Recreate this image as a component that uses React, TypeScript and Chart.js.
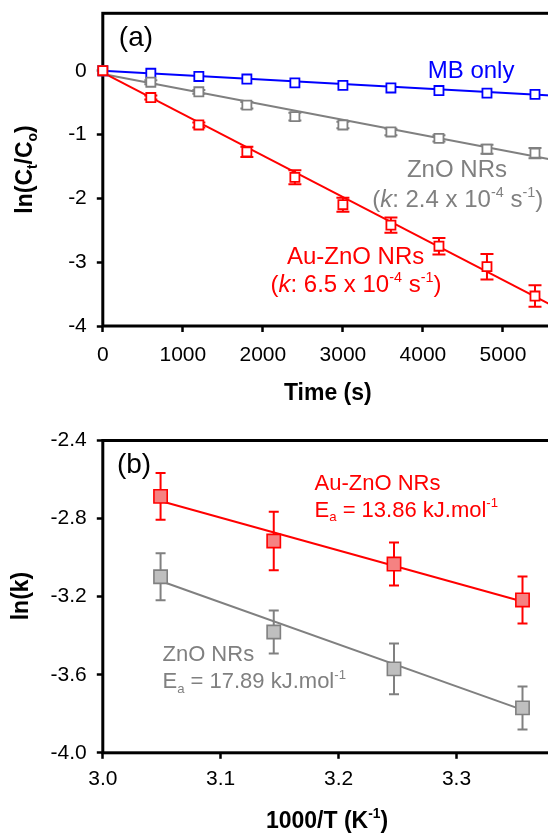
import React, { useEffect, useRef } from 'react';
import { Chart, registerables } from 'chart.js';

Chart.register(...registerables);

const FONT = '"Liberation Sans", Arial, Helvetica, sans-serif';
const RED = '#ff0000';
const BLUE = '#0000ff';
const GRAY = '#808080';

// ---------- Panel (a): ln(Ct/Co) vs time ----------
const timeS = [0, 600, 1200, 1800, 2400, 3000, 3600, 4200, 4800, 5400];
const mbOnly = [0, -0.04, -0.09, -0.13, -0.19, -0.23, -0.27, -0.31, -0.35, -0.37];
const znoA = [0, -0.18, -0.33, -0.54, -0.72, -0.85, -0.96, -1.06, -1.23, -1.29];
const znoAErr = [0, 0.03, 0.03, 0.05, 0.06, 0.05, 0.05, 0.05, 0.07, 0.08];
const auznoA = [0, -0.42, -0.85, -1.27, -1.67, -2.1, -2.42, -2.75, -3.07, -3.53];
const auznoAErr = [0, 0.03, 0.04, 0.08, 0.11, 0.11, 0.12, 0.13, 0.2, 0.17];
const fitTime = [0, 5600];
const mbFit = [0, -0.39];
const znoFit = [-0.05, -1.39];
const auznoFit = [-0.03, -3.67];
const timeTicks = [0, 1000, 2000, 3000, 4000, 5000];
const lnCTicks = [-4, -3, -2, -1, 0];

// ---------- Panel (b): ln(k) vs 1000/T ----------
const invT = [3.049, 3.145, 3.247, 3.356];
const auznoLnK = [-2.686, -2.915, -3.033, -3.217];
const auznoLnKErr = [0.12, 0.15, 0.11, 0.12];
const znoLnK = [-3.098, -3.381, -3.57, -3.77];
const znoLnKErr = [0.12, 0.11, 0.13, 0.11];
const fitInvT = [3.049, 3.356];
const auznoLnKFit = [-2.71, -3.225];
const znoLnKFit = [-3.12, -3.78];
const invTTicks = [3.0, 3.1, 3.2, 3.3];
const lnKTicks = [-4.0, -3.6, -3.2, -2.8, -2.4];

type Seg = { t: string; s?: 'sup' | 'sub'; i?: boolean };

function drawRich(
  ctx: CanvasRenderingContext2D,
  segs: Seg[],
  x: number,
  y: number,
  size: number,
  color: string,
  align: 'left' | 'center',
  bold = false
) {
  const fontFor = (sg: Seg) =>
    `${sg.i ? 'italic ' : ''}${bold ? 'bold ' : ''}${sg.s ? size * 0.6 : size}px ${FONT}`;
  let total = 0;
  const widths = segs.map((sg) => {
    ctx.font = fontFor(sg);
    const w = ctx.measureText(sg.t).width;
    total += w;
    return w;
  });
  let cx = align === 'center' ? x - total / 2 : x;
  ctx.fillStyle = color;
  ctx.textAlign = 'left';
  ctx.textBaseline = 'alphabetic';
  segs.forEach((sg, k) => {
    ctx.font = fontFor(sg);
    const dy = sg.s === 'sup' ? -size * 0.42 : sg.s === 'sub' ? size * 0.22 : 0;
    ctx.fillText(sg.t, cx, y + dy);
    cx += widths[k];
  });
}

const frameAndErrors = {
  id: 'frameAndErrors',
  beforeDatasetsDraw(chart: any) {
    const ctx = chart.ctx as CanvasRenderingContext2D;
    const { left, top, right, bottom } = chart.chartArea;
    ctx.save();
    ctx.strokeStyle = '#000';
    ctx.lineWidth = 3;
    ctx.strokeRect(left, top, right - left, bottom - top);
    const ys = chart.scales.y;
    chart.data.datasets.forEach((ds: any, i: number) => {
      const eb = ds.errorBars;
      if (!eb) return;
      const meta = chart.getDatasetMeta(i);
      ctx.strokeStyle = eb.color;
      ctx.lineWidth = eb.width;
      meta.data.forEach((pt: any, j: number) => {
        const e = eb.values[j];
        if (!e) return;
        const v = ds.data[j].y;
        const x = pt.x;
        const y1 = ys.getPixelForValue(v + e);
        const y2 = ys.getPixelForValue(v - e);
        ctx.beginPath();
        ctx.moveTo(x, y1);
        ctx.lineTo(x, y2);
        ctx.moveTo(x - eb.cap, y1);
        ctx.lineTo(x + eb.cap, y1);
        ctx.moveTo(x - eb.cap, y2);
        ctx.lineTo(x + eb.cap, y2);
        ctx.stroke();
      });
    });
    ctx.restore();
  },
};

function textPlugin(draw: (chart: any, ctx: CanvasRenderingContext2D) => void) {
  return {
    id: 'texts',
    afterDraw(chart: any) {
      const ctx = chart.ctx as CanvasRenderingContext2D;
      ctx.save();
      draw(chart, ctx);
      ctx.restore();
    },
  };
}

function axisCfg(
  min: number,
  max: number,
  ticks: number[],
  fmt: (v: number) => string,
  size: { w?: number; h?: number },
  pad: number
) {
  return {
    type: 'linear' as const,
    min,
    max,
    afterBuildTicks: (s: any) => {
      s.ticks = ticks.map((value) => ({ value }));
    },
    afterFit: (s: any) => {
      if (size.w !== undefined) s.width = size.w;
      if (size.h !== undefined) s.height = size.h;
      s.paddingTop = 0;
      s.paddingBottom = 0;
      s.paddingLeft = 0;
      s.paddingRight = 0;
    },
    grid: {
      drawOnChartArea: false,
      drawTicks: true,
      tickLength: 6,
      tickWidth: 2.5,
      tickColor: '#000',
    },
    border: { display: false },
    ticks: {
      color: '#000',
      font: { family: FONT, size: 21 },
      padding: pad,
      autoSkip: false,
      maxRotation: 0,
      minRotation: 0,
      callback: (v: any) => fmt(Number(v)),
    },
  };
}

function pts(xs: number[], ys: number[]) {
  return xs.map((x, i) => ({ x, y: ys[i] }));
}

function makeChartA(canvas: HTMLCanvasElement) {
  const sq = (color: string, order: number, data: any, err?: number[], errColor?: string) => ({
    data,
    showLine: false,
    pointStyle: 'rect',
    pointRadius: 6.4,
    pointBorderWidth: 1.8,
    pointBorderColor: color,
    pointBackgroundColor: '#ffffff',
    order,
    clip: false,
    errorBars: err ? { values: err, color: errColor, width: 2, cap: 6.5 } : undefined,
  });
  const fitLine = (color: string, order: number, ys: number[]) => ({
    data: pts(fitTime, ys),
    showLine: true,
    borderColor: color,
    borderWidth: 2,
    pointRadius: 0,
    order,
    clip: false,
  });
  return new Chart(canvas, {
    type: 'scatter',
    data: {
      datasets: [
        fitLine(BLUE, 5, mbFit),
        fitLine(GRAY, 4, znoFit),
        fitLine(RED, 3, auznoFit),
        sq(BLUE, 2, pts(timeS, mbOnly)),
        sq(GRAY, 1, pts(timeS, znoA), znoAErr, GRAY),
        sq(RED, 0, pts(timeS, auznoA), auznoAErr, RED),
      ] as any,
    },
    options: {
      responsive: false,
      animation: false,
      devicePixelRatio: 1,
      events: [],
      layout: { padding: { top: 13.3, right: 49, left: 0, bottom: 0 } },
      plugins: { legend: { display: false }, tooltip: { enabled: false } },
      scales: {
        x: axisCfg(0, 5600, timeTicks, (v) => String(v), { h: 92 }, 11),
        y: axisCfg(-4, 0.9, lnCTicks, (v) => String(v), { w: 102.8 }, 10),
      },
    } as any,
    plugins: [
      frameAndErrors,
      textPlugin((chart, ctx) => {
        const xs = chart.scales.x;
        const ys = chart.scales.y;
        const X = (v: number) => xs.getPixelForValue(v);
        const Y = (v: number) => ys.getPixelForValue(v);
        drawRich(ctx, [{ t: '(a)' }], X(200), Y(0.39), 28, '#000', 'left');
        drawRich(ctx, [{ t: 'MB only' }], X(4060), Y(-0.12), 24, BLUE, 'left');
        drawRich(ctx, [{ t: 'ZnO NRs' }], X(4425), Y(-1.66), 24, GRAY, 'center');
        drawRich(
          ctx,
          [{ t: '(' }, { t: 'k', i: true }, { t: ': 2.4 x 10' }, { t: '-4', s: 'sup' }, { t: ' s' }, { t: '-1', s: 'sup' }, { t: ')' }],
          X(4434), Y(-2.13), 24, GRAY, 'center'
        );
        drawRich(ctx, [{ t: 'Au-ZnO NRs' }], X(3158), Y(-3.03), 24, RED, 'center');
        drawRich(
          ctx,
          [{ t: '(' }, { t: 'k', i: true }, { t: ': 6.5 x 10' }, { t: '-4', s: 'sup' }, { t: ' s' }, { t: '-1', s: 'sup' }, { t: ')' }],
          X(3163), Y(-3.47), 24, RED, 'center'
        );
        // axis titles
        drawRich(ctx, [{ t: 'Time (s)' }], 327.8, 400, 23, '#000', 'center', true);
        ctx.save();
        ctx.translate(32, 169.5);
        ctx.rotate(-Math.PI / 2);
        drawRich(
          ctx,
          [{ t: 'ln(C' }, { t: 't', s: 'sub' }, { t: '/C' }, { t: 'o', s: 'sub' }, { t: ')' }],
          0, 0, 23, '#000', 'center', true
        );
        ctx.restore();
      }),
    ],
  });
}

function makeChartB(canvas: HTMLCanvasElement) {
  const sq = (border: string, fill: string, order: number, data: any, err: number[]) => ({
    data,
    showLine: false,
    pointStyle: 'rect',
    pointRadius: 9.4,
    pointBorderWidth: 1.6,
    pointBorderColor: border,
    pointBackgroundColor: fill,
    order,
    clip: false,
    errorBars: { values: err, color: border, width: 2, cap: 5 },
  });
  const fitLine = (color: string, order: number, ys: number[]) => ({
    data: pts(fitInvT, ys),
    showLine: true,
    borderColor: color,
    borderWidth: 2,
    pointRadius: 0,
    order,
    clip: false,
  });
  return new Chart(canvas, {
    type: 'scatter',
    data: {
      datasets: [
        fitLine(GRAY, 3, znoLnKFit),
        fitLine(RED, 2, auznoLnKFit),
        sq(GRAY, '#bfbfbf', 1, pts(invT, znoLnK), znoLnKErr),
        sq(RED, '#f58282', 0, pts(invT, auznoLnK), auznoLnKErr),
      ] as any,
    },
    options: {
      responsive: false,
      animation: false,
      devicePixelRatio: 1,
      events: [],
      layout: { padding: { top: 22.5, right: 49.2, left: 0, bottom: 0 } },
      plugins: { legend: { display: false }, tooltip: { enabled: false } },
      scales: {
        x: axisCfg(3.0, 3.38, invTTicks, (v) => v.toFixed(1), { h: 83.2 }, 8),
        y: axisCfg(-4.0, -2.4, lnKTicks, (v) => v.toFixed(1), { w: 102.8 }, 10),
      },
    } as any,
    plugins: [
      frameAndErrors,
      textPlugin((chart, ctx) => {
        const xs = chart.scales.x;
        const ys = chart.scales.y;
        const X = (v: number) => xs.getPixelForValue(v);
        const Y = (v: number) => ys.getPixelForValue(v);
        drawRich(ctx, [{ t: '(b)' }], X(3.012), Y(-2.569), 28, '#000', 'left');
        drawRich(ctx, [{ t: 'Au-ZnO NRs' }], X(3.1796), Y(-2.654), 22, RED, 'left');
        drawRich(
          ctx,
          [{ t: 'E' }, { t: 'a', s: 'sub' }, { t: ' = 13.86 kJ.mol' }, { t: '-1', s: 'sup' }],
          X(3.1796), Y(-2.79), 22, RED, 'left'
        );
        drawRich(ctx, [{ t: 'ZnO NRs' }], X(3.0506), Y(-3.528), 22, GRAY, 'left');
        drawRich(
          ctx,
          [{ t: 'E' }, { t: 'a', s: 'sub' }, { t: ' = 17.89 kJ.mol' }, { t: '-1', s: 'sup' }],
          X(3.0506), Y(-3.669), 22, GRAY, 'left'
        );
        drawRich(
          ctx,
          [{ t: '1000/T (K' }, { t: '-1', s: 'sup' }, { t: ')' }],
          327, 410, 23, '#000', 'center', true
        );
        ctx.save();
        ctx.translate(28, 178);
        ctx.rotate(-Math.PI / 2);
        drawRich(ctx, [{ t: 'ln(k)' }], 0, 0, 23, '#000', 'center', true);
        ctx.restore();
      }),
    ],
  });
}

export default function App() {
  const refA = useRef<HTMLCanvasElement>(null);
  const refB = useRef<HTMLCanvasElement>(null);
  useEffect(() => {
    const a = makeChartA(refA.current!);
    const b = makeChartB(refB.current!);
    return () => {
      a.destroy();
      b.destroy();
    };
  }, []);
  return (
    <div
      style={{
        position: 'fixed',
        left: 0,
        top: 0,
        width: 548,
        height: 836,
        overflow: 'hidden',
        background: '#fff',
      }}
    >
      <canvas ref={refA} width={600} height={418} style={{ position: 'absolute', left: 0, top: 0, width: 600, height: 418 }} />
      <canvas ref={refB} width={600} height={418} style={{ position: 'absolute', left: 0, top: 418, width: 600, height: 418 }} />
    </div>
  );
}
